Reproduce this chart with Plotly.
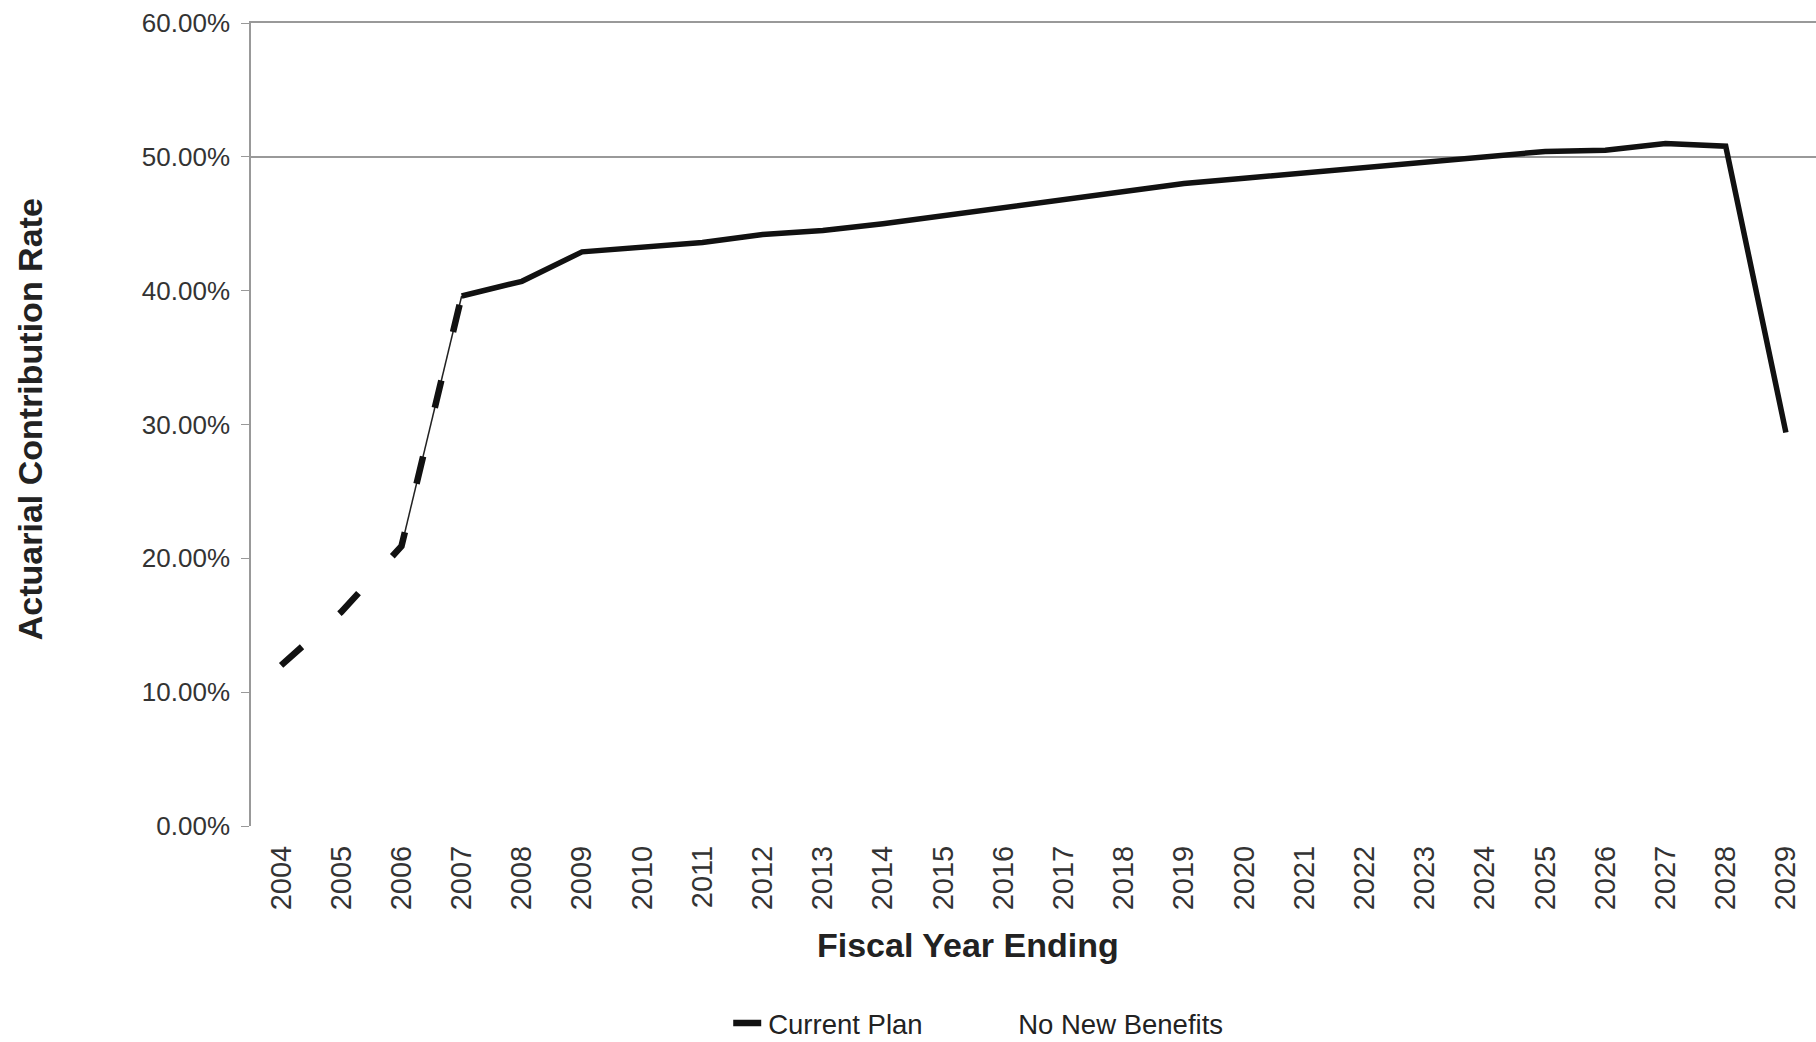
import plotly.graph_objects as go

years = [str(y) for y in range(2004, 2030)]

current_plan_years = ["2004", "2005", "2006", "2007"]
current_plan_rates = [12.0, 16.0, 20.9, 39.6]

nnb_years = [str(y) for y in range(2006, 2030)]
nnb_rates = [20.9, 39.6, 40.7, 42.9, 43.3, 43.6, 44.2, 44.5, 45.0, 45.6, 46.3, 46.9,
             47.4, 48.0, 48.4, 48.8, 49.3, 49.7, 50.1, 50.4, 50.5, 51.0, 50.8, 29.4]

y_ticks = [0, 10, 20, 30, 40, 50, 60]
y_tick_text = [f"{v:.2f}%" for v in y_ticks]
grid_ticks = [50]

FONT = "Liberation Sans, Arial, sans-serif"

fig = go.Figure()

# thin connector of the No New Benefits series (2006-2007)
fig.add_trace(go.Scatter(x=nnb_years[:2], y=nnb_rates[:2], mode="lines",
                         line=dict(color="#222", width=1.5), showlegend=False,
                         hoverinfo="skip"))
# main No New Benefits line (2007 onward)
fig.add_trace(go.Scatter(x=nnb_years[1:], y=nnb_rates[1:], mode="lines",
                         line=dict(color="#111", width=5.5), showlegend=False,
                         name="No New Benefits"))
# Current Plan dashed line
fig.add_trace(go.Scatter(x=current_plan_years, y=current_plan_rates, mode="lines",
                         line=dict(color="#111", width=6.5, dash="28px,50px"),
                         name="Current Plan"))
# legend-only entry with no visible symbol
fig.add_trace(go.Scatter(x=[None], y=[None], mode="lines",
                         line=dict(color="rgba(0,0,0,0)", width=0),
                         name="No New Benefits"))
# dummy trace so the overlay axes (grid + top border) are drawn
fig.add_trace(go.Scatter(x=[years[0]], y=[None], xaxis="x2", yaxis="y2",
                         showlegend=False, hoverinfo="skip"))

fig.update_layout(
    width=1816, height=1042,
    margin=dict(l=251, r=0, t=23, b=216),
    paper_bgcolor="white", plot_bgcolor="white",
    font=dict(family=FONT, size=26, color="#333"),
    xaxis=dict(type="category", categoryorder="array", categoryarray=years,
               range=[-0.5, 25.5],
               tickvals=years, ticktext=years, tickangle=-90,
               showgrid=False, showline=False, zeroline=False, ticks="",
               ticklabelstandoff=13,
               tickfont=dict(family=FONT, size=29, color="#333")),
    xaxis2=dict(type="category", categoryorder="array", categoryarray=years,
                range=[-0.5, 25.5], overlaying="x", side="top", anchor="y2",
                showline=True, linecolor="#999", linewidth=1.5,
                showticklabels=False, ticks="", showgrid=False, zeroline=False),
    yaxis=dict(range=[0, 60], tickvals=y_ticks, ticktext=y_tick_text,
               showgrid=False, zeroline=False, showline=True, linecolor="#999",
               linewidth=1.5, ticks="outside", ticklen=8, tickcolor="#999",
               ticklabelstandoff=6,
               tickfont=dict(family=FONT, size=26, color="#333")),
    yaxis2=dict(range=[0, 60], overlaying="y", anchor="x2", tickvals=grid_ticks,
                showgrid=True, gridcolor="#999", gridwidth=1.5,
                showticklabels=False, ticks="", zeroline=False, showline=False),
    showlegend=True,
    legend=dict(orientation="h", xref="container", yref="container",
                x=0.401, y=0.018, xanchor="left", yanchor="middle",
                font=dict(family=FONT, size=27.5, color="#222"),
                entrywidth=205, bgcolor="rgba(0,0,0,0)"),
    annotations=[
        dict(text="<b>Actuarial Contribution Rate</b>", xref="paper", yref="paper",
             x=-0.141, y=0.507, xanchor="center", yanchor="middle", textangle=-90,
             showarrow=False, font=dict(family=FONT, size=34, color="#222")),
        dict(text="<b>Fiscal Year Ending</b>", xref="paper", yref="paper",
             x=0.458, y=-0.148, xanchor="center", yanchor="middle",
             showarrow=False, font=dict(family=FONT, size=34, color="#222")),
    ],
)

fig.write_html("out.html")
